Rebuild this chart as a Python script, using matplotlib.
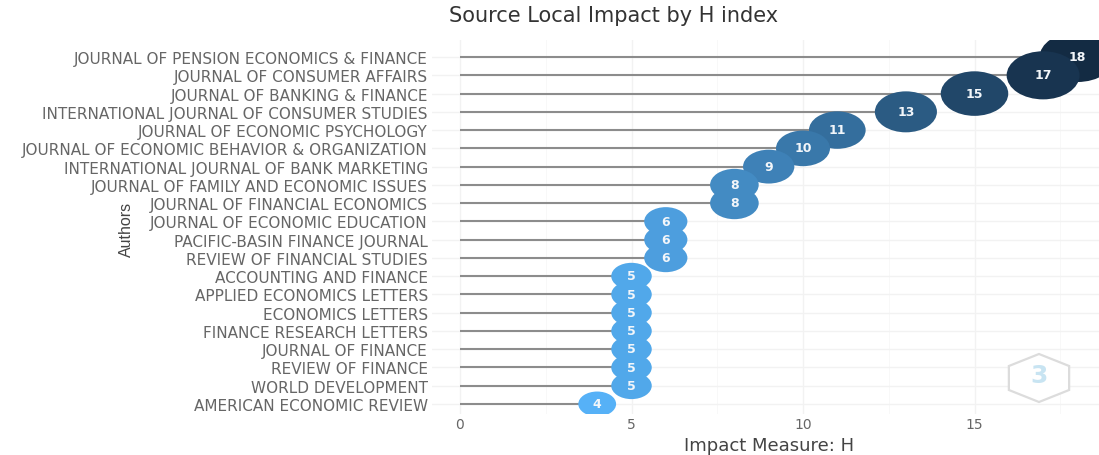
import numpy as np
import matplotlib
matplotlib.use("Agg")
import matplotlib.pyplot as plt
from matplotlib.colors import LinearSegmentedColormap
from matplotlib.patches import RegularPolygon
from matplotlib.path import Path
from matplotlib.transforms import Affine2D

sources = [
    "JOURNAL OF PENSION ECONOMICS & FINANCE",
    "JOURNAL OF CONSUMER AFFAIRS",
    "JOURNAL OF BANKING & FINANCE",
    "INTERNATIONAL JOURNAL OF CONSUMER STUDIES",
    "JOURNAL OF ECONOMIC PSYCHOLOGY",
    "JOURNAL OF ECONOMIC BEHAVIOR & ORGANIZATION",
    "INTERNATIONAL JOURNAL OF BANK MARKETING",
    "JOURNAL OF FAMILY AND ECONOMIC ISSUES",
    "JOURNAL OF FINANCIAL ECONOMICS",
    "JOURNAL OF ECONOMIC EDUCATION",
    "PACIFIC-BASIN FINANCE JOURNAL",
    "REVIEW OF FINANCIAL STUDIES",
    "ACCOUNTING AND FINANCE",
    "APPLIED ECONOMICS LETTERS",
    "ECONOMICS LETTERS",
    "FINANCE RESEARCH LETTERS",
    "JOURNAL OF FINANCE",
    "REVIEW OF FINANCE",
    "WORLD DEVELOPMENT",
    "AMERICAN ECONOMIC REVIEW",
]
h_index = [18, 17, 15, 13, 11, 10, 9, 8, 8, 6, 6, 6, 5, 5, 5, 5, 5, 5, 5, 4]
x_ticks = [0, 5, 10, 15]

W, H = 1099, 456
fig = plt.figure(figsize=(W / 100, H / 100), dpi=100)
ax = fig.add_axes([432 / W, 1 - 415 / H, (W - 432) / W, (415 - 41) / H])

vals = np.array(h_index)
ypos = np.arange(len(vals))[::-1]

cmap = LinearSegmentedColormap.from_list("hblue", ["#56B1F7", "#132B43"])

# bubbles are stretched sideways in the original
oval = Path.unit_circle().transformed(Affine2D().scale(1, 0.66))
widths = (27 + 2.7 * vals) * 0.72

ax.hlines(ypos, 0, vals, color="#8c8c8c", lw=1.5, zorder=2)
ax.scatter(vals, ypos, s=widths ** 2, c=vals, cmap=cmap, vmin=4, vmax=18,
           marker=oval, linewidths=0, zorder=3)
for v, y in zip(vals, ypos):
    ax.text(v, y + 0.02, str(v), color="#f2f6fa", fontsize=9, fontweight="bold",
            ha="center", va="center", zorder=4, clip_on=True)

ax.set_xlim(-28 / 34.3, (W - 460) / 34.3)
ax.set_ylim(-10 / 18.26, 364 / 18.26)
ax.set_xticks(x_ticks)
ax.set_xticks([2.5, 7.5, 12.5, 17.5], minor=True)
ax.set_yticks(ypos)
ax.set_yticklabels(sources, fontsize=11, color="#666666")
ax.tick_params(axis="x", which="major", length=0, labelsize=10, labelcolor="#666666", pad=2)
ax.tick_params(axis="x", which="minor", length=0)
ax.tick_params(axis="y", length=0, pad=3)
ax.grid(True, which="major", color="#f2f2f2", lw=1)
ax.grid(True, which="minor", axis="x", color="#f8f8f8", lw=0.7)
ax.set_axisbelow(True)
for s in ax.spines.values():
    s.set_visible(False)

fig.text(614 / W, 1 - 16 / H, "Source Local Impact by H index", ha="center", va="center",
         fontsize=15, color="#333333")
fig.text(769 / W, 1 - 446 / H, "Impact Measure: H", ha="center", va="center",
         fontsize=13, color="#444444")
fig.text(126 / W, 1 - 229 / H, "Authors", rotation=90, ha="center", va="center",
         fontsize=11.5, color="#444444", family="Liberation Sans")

# logo in the bottom right corner
cx, cy = 1039, H - 379
logo = RegularPolygon((cx, cy), 6, radius=24, facecolor="white",
                      edgecolor="#dcdcdc", lw=1.6,
                      transform=Affine2D().translate(-cx, -cy).scale(1.45, 1).translate(cx, cy))
fig.add_artist(logo)
fig.text(cx / W, 1 - 376 / H, "3", ha="center", va="center", fontsize=18,
         color="#c8e4f2", fontweight="bold")

fig.savefig("out.png", dpi=100)
